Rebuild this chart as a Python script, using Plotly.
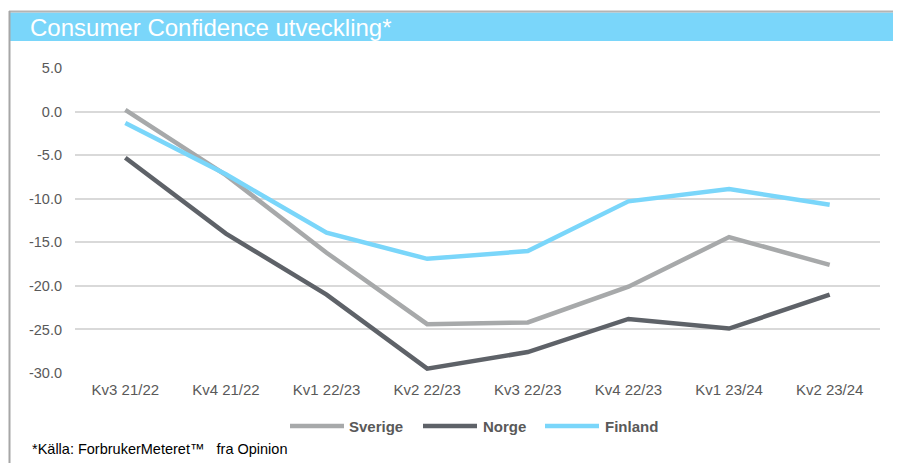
import plotly.graph_objects as go

categories = ["Kv3 21/22", "Kv4 21/22", "Kv1 22/23", "Kv2 22/23",
              "Kv3 22/23", "Kv4 22/23", "Kv1 23/24", "Kv2 23/24"]
sverige = [0.2, -7.3, -16.2, -24.4, -24.2, -20.1, -14.4, -17.6]
norge = [-5.3, -14.0, -21.0, -29.5, -27.6, -23.8, -24.9, -21.0]
finland = [-1.3, -7.2, -13.9, -16.9, -16.0, -10.3, -8.9, -10.7]
y_ticks = [5, 0, -5, -10, -15, -20, -25, -30]
y_tick_labels = ["5.0", "0.0", "-5.0", "-10.0", "-15.0", "-20.0", "-25.0", "-30.0"]

series = [("Sverige", sverige, "#A7A9AA"),
          ("Norge", norge, "#5E6268"),
          ("Finland", finland, "#7AD6FA")]

OFF = 8  # page body margin
W, H = 901 - OFF, 463 - OFF
ML = 75 - OFF
MT = 68 - OFF
MR = W - (880 - OFF)
MB = H - (373 - OFF)
PW = W - ML - MR
PH = H - MT - MB


def px(x):
    return (x - OFF - ML) / PW


def py(y):
    return (H - MB - (y - OFF)) / PH


fig = go.Figure()
for name, vals, col in series:
    fig.add_trace(go.Scatter(x=categories, y=vals, mode="lines", name=name,
                             line=dict(color=col, width=4.5), showlegend=False))

shapes = []
shapes.append(dict(type="rect", xref="paper", yref="paper", x0=px(9), x1=px(905),
                   y0=py(41), y1=py(12.5), fillcolor="#7AD6FA", line=dict(width=0), layer="below"))
shapes.append(dict(type="line", xref="paper", yref="paper", x0=px(9), x1=px(905),
                   y0=py(11.5), y1=py(11.5), line=dict(color="#B4B4B4", width=2)))
shapes.append(dict(type="line", xref="paper", yref="paper", x0=px(9.5), x1=px(9.5),
                   y0=py(11), y1=py(470), line=dict(color="#A6A6A6", width=2)))

annotations = [
    dict(text="Consumer Confidence utveckling*", xref="paper", yref="paper",
         x=px(28), y=py(27.5), xanchor="left", yanchor="middle", showarrow=False,
         font=dict(family="Liberation Sans, Arial", size=24, color="white")),
    dict(text="*Källa: ForbrukerMeteret™   fra Opinion", xref="paper", yref="paper",
         x=px(30), y=py(449), xanchor="left", yanchor="middle", showarrow=False,
         font=dict(family="Liberation Sans, Arial", size=14.5, color="#000000")),
]

leg = [(290, 344, 347), (423, 477, 481), (545, 599, 603)]
for (name, vals, col), (x0, x1, tx) in zip(series, leg):
    shapes.append(dict(type="line", xref="paper", yref="paper", x0=px(x0), x1=px(x1),
                       y0=py(426), y1=py(426), line=dict(color=col, width=4.5)))
    annotations.append(dict(text="<b>" + name + "</b>", xref="paper", yref="paper",
                            x=px(tx), y=py(426), xanchor="left", yanchor="middle",
                            showarrow=False,
                            font=dict(family="Liberation Sans, Arial", size=15, color="#595959")))

fig.update_layout(
    width=W, height=H,
    margin=dict(l=ML, r=MR, t=MT, b=MB),
    paper_bgcolor="white", plot_bgcolor="white",
    shapes=shapes, annotations=annotations,
    font=dict(family="Liberation Sans, Arial", size=14, color="#595959"),
    xaxis=dict(type="category", range=[-0.5, 7.5], showgrid=False, zeroline=False,
               showline=False, ticks="", tickfont=dict(size=15, color="#595959"),
               ticklabelstandoff=6),
    yaxis=dict(range=[-30, 5], tickvals=y_ticks, ticktext=y_tick_labels,
               showgrid=True, gridcolor="#D9D9D9", gridwidth=1.5, zeroline=False,
               showline=False, ticks="", tickfont=dict(size=14.5, color="#595959"),
               ticklabelstandoff=12),
)

fig.write_html("out.html")
